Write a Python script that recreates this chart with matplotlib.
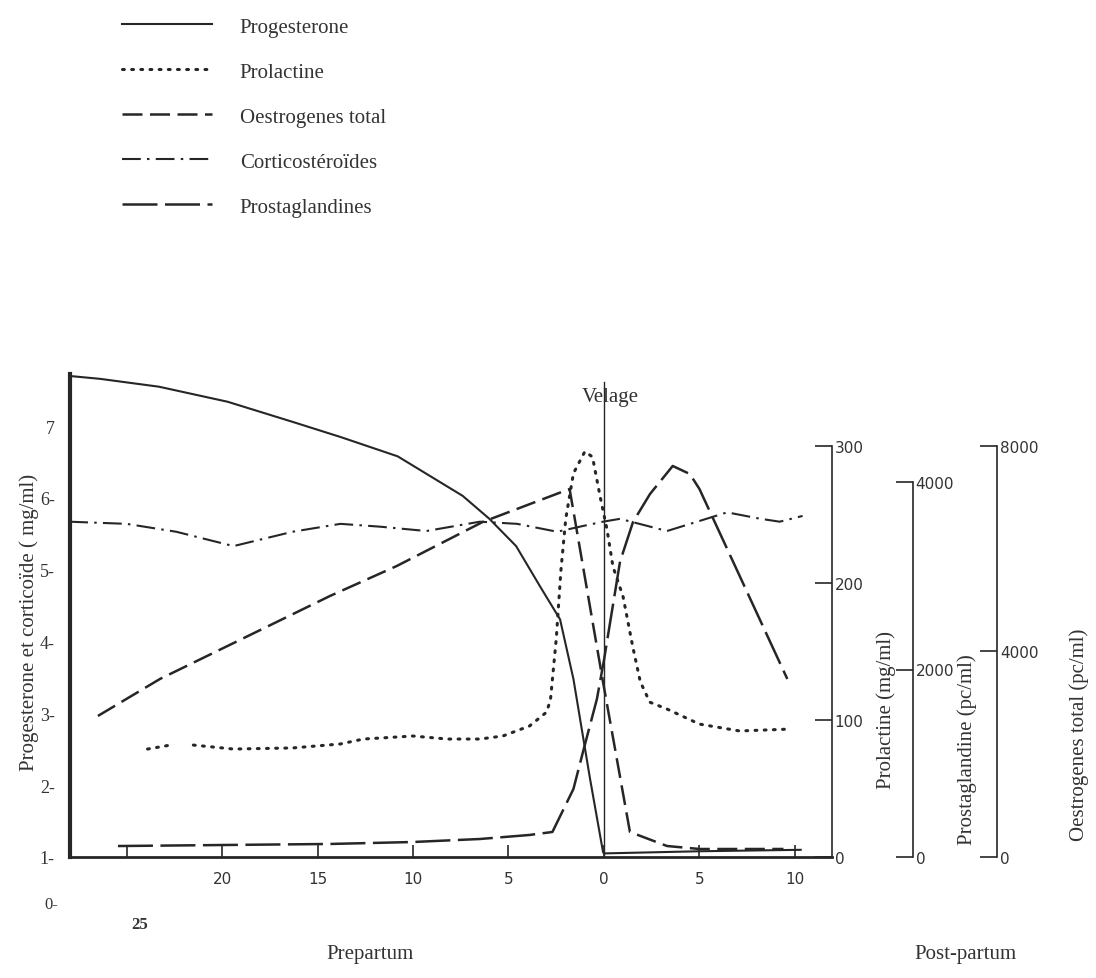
import matplotlib.pyplot as plt
import numpy as np

# days relative to calving (velage)
prog_days = [-28.0, -26.4, -23.3, -19.7, -16.3, -13.8, -10.8, -7.4, -6.0, -4.6, -3.35, -2.3, -1.6, -1.25, -0.73, -0.05, 0.0, 5.0, 10.3]
prog_vals = [7.70, 7.66, 7.55, 7.34, 7.06, 6.85, 6.58, 6.03, 5.71, 5.33, 4.77, 4.31, 3.48, 2.92, 2.09, 1.07, 1.05, 1.08, 1.10]

prl_days = [-23.9, -22.7, np.nan, -21.5, -19.4, -16.3, -13.8, -12.6, -10.0, -8.2, -6.5, -5.3, -3.9, -3.0, -2.8,
            -2.5, -2.25, -2.0, -1.6, -1.0, -0.6, -0.2, 0.16, 0.47, 1.0, 1.5, 1.9, 2.4, 3.3, 5.0, 7.1, 9.8]
prl_vals = [78.8, 81.7, np.nan, 81.7, 78.8, 79.6, 82.5, 86.1, 88.3, 86.1, 86.1, 88.3, 95.6, 105.8, 115.0,
            159.0, 210.0, 247.0, 280.0, 296.0, 292.0, 263.0, 239.0, 212.0, 190.0, 154.0, 128.0, 113.0, 108.0, 97.0, 92.0, 93.4]

oes_days = [-26.5, -23.25, -14.35, -10.85, -6.35, -1.8, -0.05, 1.36, 3.3, 5.0, 9.4]
oes_vals = [2745, 3465, 5080, 5664, 6521, 7163, 3406, 487, 214, 156, 156]

cort_days = [-28.0, -25.0, -22.4, -19.4, -16.3, -13.8, -11.7, -9.3, -6.5, -4.55, -2.45, -1.1, -0.05, 0.84, 3.3, 5.0, 6.45, 8.2, 9.2, 10.4]
cort_vals = [5.67, 5.64, 5.53, 5.33, 5.53, 5.64, 5.60, 5.54, 5.67, 5.64, 5.53, 5.61, 5.67, 5.71, 5.54, 5.68, 5.80, 5.71, 5.67, 5.75]

pg_days = [-25.45, -14.35, -10.0, -6.5, -3.9, -2.7, -1.6, -1.1, -0.37, 0.0, 0.84, 1.52, 2.41, 3.6, 4.5, 5.0, 9.6]
pg_vals = [117, 139, 160, 192, 235, 267, 725, 1120, 1685, 2100, 3150, 3573, 3872, 4171, 4085, 3925, 1899]

x_ticks = [-25, -20, -15, -10, -5, 0, 5, 10]
x_labels = ['', '20', '15', '10', '5', '0', '5', '10']

ink = '#262626'
serif = 'Liberation Serif'
sans = 'DejaVu Sans'

W, H = 1096, 979
fig = plt.figure(figsize=(W / 100, H / 100), dpi=100)
ax = fig.add_axes([70 / W, 121 / H, 762 / W, 483 / H])
ax.set_xlim(-27.96, 11.94)
ax.set_ylim(1.0, 7.727)

# left axis : progesterone, corticoides
l_prog, = ax.plot(prog_days, prog_vals, color=ink, lw=1.5, label='Progesterone')
l_cort, = ax.plot(cort_days, cort_vals, color=ink, lw=1.5, ls=(0, (9, 3, 1.2, 3)), label='Corticostéroïdes')
ax.plot([0, 0], [1.0, 7.62], color=ink, lw=1.0)

ax.spines['top'].set_visible(False)
ax.spines['right'].set_visible(False)
ax.spines['left'].set_linewidth(3)
ax.spines['bottom'].set_linewidth(2)
ax.spines['left'].set_color(ink)
ax.spines['bottom'].set_color(ink)
ax.set_yticks(range(1, 8))
ax.set_yticklabels(['1-', '2-', '3-', '4-', '5-', '6-', '7'], fontfamily=serif, fontsize=13, color='#333')
ax.tick_params(axis='y', length=0, pad=11)
ax.set_xticks(x_ticks)
ax.set_xticklabels(x_labels, fontfamily=sans, fontsize=11, color='#333')
ax.tick_params(axis='x', direction='in', length=9, width=1.2, pad=10, color=ink)

# prolactine
ax2 = ax.twinx()
ax2.set_ylim(0, 352.55)
l_prl, = ax2.plot(prl_days, prl_vals, color=ink, lw=2.2, ls=(0, (0.6, 2.4)), dash_capstyle='round', label='Prolactine')

# prostaglandines
ax3 = ax.twinx()
ax3.set_ylim(0, 5152)
ax3.spines['right'].set_position(('axes', 1.106))
l_pg, = ax3.plot(pg_days, pg_vals, color=ink, lw=1.8, ls=(0, (14, 3)), label='Prostaglandines')

# oestrogenes total
ax4 = ax.twinx()
ax4.set_ylim(0, 9401)
ax4.spines['right'].set_position(('axes', 1.217))
l_oes, = ax4.plot(oes_days, oes_vals, color=ink, lw=1.8, ls=(0, (8, 3)), label='Oestrogenes total')

for a, top, ticks in [(ax2, 300, [0, 100, 200, 300]), (ax3, 4000, [0, 2000, 4000]), (ax4, 8000, [0, 4000, 8000])]:
    for s in ['top', 'left', 'bottom']:
        a.spines[s].set_visible(False)
    a.spines['right'].set_bounds(0, top)
    a.spines['right'].set_linewidth(1.2)
    a.spines['right'].set_color(ink)
    a.set_yticks(ticks)
    a.set_yticklabels([str(t) for t in ticks], fontfamily=sans, fontsize=11, color='#333')
    a.tick_params(axis='y', direction='in', length=12, width=1.2, pad=2, color=ink)

# axis titles
fig.text(29 / W, 1 - 622 / H, 'Progesterone et corticoïde ( mg/ml)', rotation=90, ha='center', va='center',
         fontfamily=serif, fontsize=15, color='#333')
fig.text(886 / W, 1 - 710 / H, 'Prolactine (mg/ml)', rotation=90, ha='center', va='center',
         fontfamily=serif, fontsize=15, color='#333')
fig.text(967 / W, 1 - 750 / H, 'Prostaglandine (pc/ml)', rotation=90, ha='center', va='center',
         fontfamily=serif, fontsize=15, color='#333')
fig.text(1079 / W, 1 - 735 / H, 'Oestrogenes total (pc/ml)', rotation=90, ha='center', va='center',
         fontfamily=serif, fontsize=15, color='#333')

fig.text(610 / W, 1 - 398 / H, 'Velage', ha='center', va='center', fontfamily=serif, fontsize=15, color='#333')
fig.text(370 / W, 1 - 955 / H, 'Prepartum', ha='center', va='center', fontfamily=serif, fontsize=15, color='#333')
fig.text(965 / W, 1 - 955 / H, 'Post-partum', ha='center', va='center', fontfamily=serif, fontsize=15, color='#333')
fig.text(44 / W, 1 - 905 / H, '0-', ha='left', va='center', fontfamily=serif, fontsize=12, color='#333')
fig.text(140 / W, 1 - 925 / H, '25', ha='center', va='center', fontfamily=serif, fontsize=12,
         fontweight='bold', color='#333')

fig.legend([l_prog, l_prl, l_oes, l_cort, l_pg],
           ['Progesterone', 'Prolactine', 'Oestrogenes total', 'Corticostéroïdes', 'Prostaglandines'],
           loc='upper left', bbox_to_anchor=(122 / W, 1 - 18 / H), frameon=False,
           borderpad=0, borderaxespad=0, handlelength=4.3, handletextpad=1.35, labelspacing=1.22,
           prop={'family': serif, 'size': 15}, labelcolor='#333')

fig.savefig('out.png', dpi=100, facecolor='white')
